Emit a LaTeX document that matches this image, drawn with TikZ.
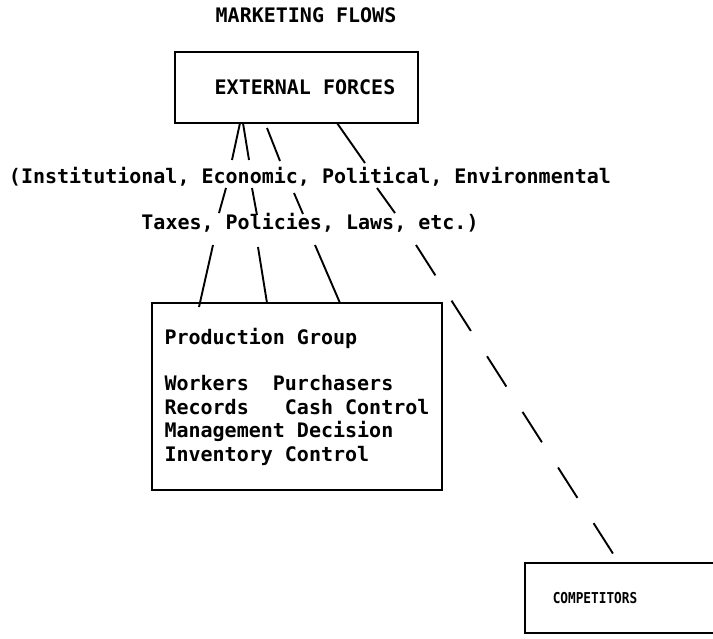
\documentclass[tikz,border=0pt]{standalone}
\usepackage{fontspec}
\setmonofont{DejaVu Sans Mono}
\begin{document}
\begin{tikzpicture}[x=1pt,y=-1pt,
  tw/.style={font=\ttfamily\bfseries\fontsize{20}{23.4}\selectfont, inner sep=0pt},
  tws/.style={font=\ttfamily\bfseries\fontsize{15}{17}\selectfont, inner sep=0pt},
  box/.style={draw, line width=2pt, inner sep=0pt, outer sep=0pt},
  conn/.style={line width=1.9pt},
  dconn/.style={line width=1.9pt, dash pattern=on 36pt off 30pt}]
\fill[white] (0,0) rectangle (713,638);
\useasboundingbox (0,0) rectangle (713,638);

\node[tw] (title) at (306,15) {MARKETING FLOWS};
\node[box,tw,minimum width=243pt,minimum height=71pt] (ext) at (296.5,87.5) {\hspace*{17pt}EXTERNAL FORCES};
\node[tw] (row1) at (310,177) {(Institutional, Economic, Political, Environmental};
\node[tw] (row2) at (310,223) {Taxes, Policies, Laws, etc.)};
\node[box,tw,minimum width=290pt,minimum height=187pt,align=left] (prod) at (297,396.5)
  {Production Group\\[23.4pt]Workers\ \ Purchasers\\Records\ \ \ Cash Control\\Management Decision\\Inventory Control};
\node[tws,minimum width=190pt,minimum height=70pt,outer sep=0pt] (comp) at (620,598) {\hspace*{-50pt}\scalebox{0.85}[1]{COMPETITORS}};
\draw[box] (comp.north east) -- (comp.north west) -- (comp.south west) -- (comp.south east);

% connector end points
\coordinate (a1) at (240,123); \coordinate (a2) at (232,160);
\coordinate (b1) at (243,123); \coordinate (b2) at (249,160);
\coordinate (c1) at (267,128); \coordinate (c2) at (280,161);
\coordinate (d1) at (337,123); \coordinate (d2) at (365,163);
\coordinate (e1) at (226,188); \coordinate (e2) at (219,213);
\coordinate (f1) at (252,188); \coordinate (f2) at (257,215);
\coordinate (g1) at (294,193); \coordinate (g2) at (303,214);
\coordinate (h1) at (377,188); \coordinate (h2) at (395,213);
\coordinate (i1) at (213,245); \coordinate (i2) at (199,307);
\coordinate (j1) at (258,247); \coordinate (j2) at (267,303);
\coordinate (k1) at (315,245); \coordinate (k2) at (340,303);
\coordinate (l1) at (416,245); \coordinate (l2) at (619,563);

\draw[conn] (a1) -- (a2);
\draw[conn] (b1) -- (b2);
\draw[conn] (c1) -- (c2);
\draw[conn] (d1) -- (d2);
\draw[conn] (e1) -- (e2);
\draw[conn] (f1) -- (f2);
\draw[conn] (g1) -- (g2);
\draw[conn] (h1) -- (h2);
\draw[conn] (i1) -- (i2);
\draw[conn] (j1) -- (j2);
\draw[conn] (k1) -- (k2);
\draw[dconn] (l1) -- (l2);
\end{tikzpicture}
\end{document}
